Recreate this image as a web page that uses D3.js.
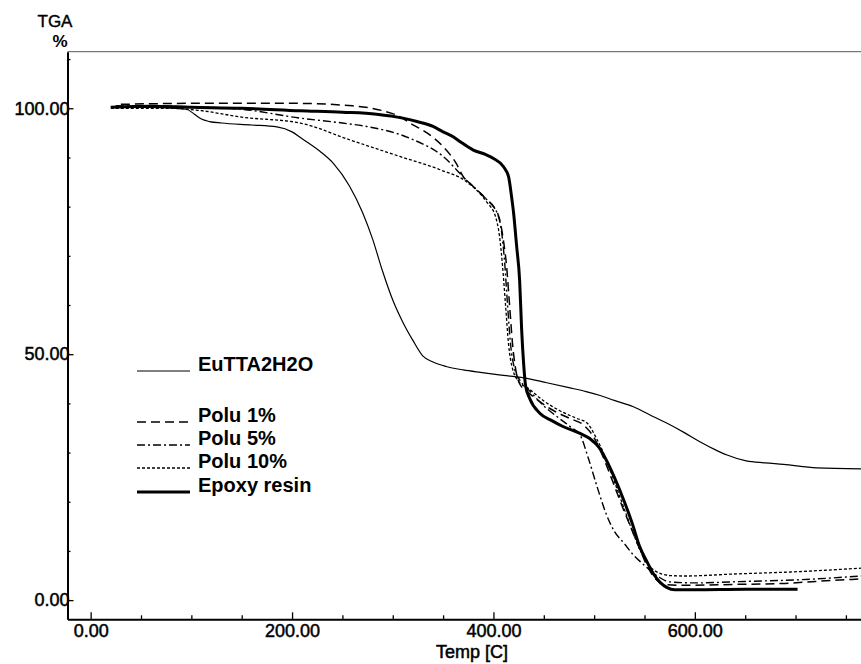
<!DOCTYPE html>
<html>
<head>
<meta charset="utf-8">
<script src="https://cdn.jsdelivr.net/npm/d3@7"></script>
<style>
  body { margin: 0; background: #fff; }
  text { font-family: "Liberation Sans", Arial, sans-serif; fill: #000; }
</style>
</head>
<body>
<div id="chart"></div>
<script>
// temperature [C], weight [%]
const euttaData = [[20,100.3],[60,100.2],[95,99.8],[103,98.8],[110,97.8],[118,97.3],[130,97],[160,96.6],[185,96.2],[200,95.2],[210,93.8],[228,91.2],[241,88.8],[257,84.2],[270,78.8],[280,73.4],[290,66.8],[300,61],[310,56.5],[320,52.8],[330,49.6],[340,48.4],[353,47.5],[370,46.8],[387,46.3],[410,45.7],[430,45.2],[453,44.2],[475,43.2],[492,42.4],[506,41.6],[520,40.6],[539,39.3],[555,37.7],[572,36],[590,34],[605,32.2],[620,30.6],[632,29.5],[651,28.3],[670,27.9],[688,27.6],[721,26.9],[765,26.7]];
const polu1Data = [[30,100.8],[100,101],[200,101],[260,100.5],[290,99.5],[305,98.5],[317,97],[334,95],[350,92.2],[363,88.8],[370,86.1],[378,84.5],[393,81.5],[400,80],[406,77.5],[410,73],[413,68],[416,60],[419,52],[422,47],[426,44],[433,42.5],[445,40.5],[460,38.5],[475,37],[490,35.5],[500,33],[506,30.5],[513,27],[519,23.8],[528,19],[536,15],[545,10.5],[553,6.8],[560,4.5],[570,3.2],[590,3],[640,3.2],[690,3.4],[720,3.8],[765,4.3]];
const polu5Data = [[25,100.5],[100,100.3],[150,99.8],[208,98],[250,97],[274,96.3],[317,93.9],[350,90.2],[373,85.4],[393,81.5],[403,79],[408,75],[411,69],[414,60],[417,52],[421,47],[427,44.5],[436,42.5],[450,39.5],[465,37],[478,35],[486,33.6],[494,29],[503,23],[512,17.5],[520,14],[530,11.5],[538,9.4],[547,7.6],[556,6],[565,4.6],[575,3.7],[600,3.5],[650,3.8],[700,4.1],[765,4.9]];
const polu10Data = [[20,100],[80,100],[110,99.5],[150,98.2],[208,97],[257,93.6],[307,90.2],[347,87.5],[373,85.1],[393,81],[402,78],[406,74],[409,68],[412,60],[415,52],[419,47],[425,44.5],[435,43],[450,40.5],[466,38.5],[482,37],[493,36],[502,33],[508,30.5],[515,27],[522,23],[530,18.5],[538,14],[546,10],[553,7.5],[560,6],[575,5],[590,4.9],[638,5.3],[704,5.8],[765,6.5]];
const epoxyData = [[20,100.2],[60,100.4],[100,100.2],[150,100],[208,99.5],[250,99.2],[284,98.8],[310,98],[324,97.3],[340,96.3],[350,95.2],[360,94.2],[367,93.2],[380,91.5],[392,90.6],[400,89.8],[410,88.1],[415,86.1],[418,82],[420,78.7],[423,72],[426,65],[428,55],[430,48],[432,43.5],[436,41],[446,38],[458,36.5],[469,35.3],[486,33.9],[496,32.8],[505,31],[512,28.5],[520,25],[530,20],[538,15.5],[545,11],[552,8],[559,5.3],[566,3.5],[572,2.6],[580,2.1],[600,2.1],[650,2.2],[702,2.2]];

const seriesNames = ["EuTTA2H2O", "Polu 1%", "Polu 5%", "Polu 10%", "Epoxy resin"];
const xTicks = [0, 200, 400, 600];
const yTicks = [0, 50, 100];

const width = 861;
const height = 664;

const series = [
    { name: seriesNames[0], data: euttaData, width: 1.2, dash: null },
    { name: seriesNames[1], data: polu1Data, width: 1.5, dash: "9,5" },
    { name: seriesNames[2], data: polu5Data, width: 1.4, dash: "8,3,2,3" },
    { name: seriesNames[3], data: polu10Data, width: 1.3, dash: "3,2" },
    { name: seriesNames[4], data: epoxyData, width: 3, dash: null }
];

const svg = d3.select("#chart")
    .append("svg")
    .attr("width", width)
    .attr("height", height);

const x = d3.scaleLinear().domain([-23, 765]).range([67.5, 861]);
const y = d3.scaleLinear().domain([-3.9, 111.5]).range([619.3, 51.7]);

// top frame line
svg.append("line")
    .attr("x1", x.range()[0]).attr("x2", x.range()[1])
    .attr("y1", y.range()[1]).attr("y2", y.range()[1])
    .attr("stroke", "#555")
    .attr("stroke-width", 1);

svg.append("g")
    .attr("transform", `translate(0,${y.range()[0]})`)
    .call(d3.axisBottom(x).tickValues(xTicks).tickFormat(d3.format(".2f"))
        .tickSize(-7).tickSizeOuter(0).tickPadding(5));
svg.append("g")
    .attr("transform", `translate(0,${y.range()[0]})`)
    .call(d3.axisBottom(x).tickValues(d3.range(50, 765, 50).filter(v => v % 200 !== 0))
        .tickSize(-4).tickSizeOuter(0).tickFormat(""))
    .select(".domain").remove();

svg.append("g")
    .attr("transform", `translate(${x.range()[0]},0)`)
    .call(d3.axisLeft(y).tickValues(yTicks).tickFormat(d3.format(".2f"))
        .tickSize(-6).tickSizeOuter(0).tickPadding(-2));
svg.append("g")
    .attr("transform", `translate(${x.range()[0]},0)`)
    .call(d3.axisLeft(y).tickValues(d3.range(10, 111, 10).filter(v => v % 50 !== 0))
        .tickSize(-3).tickSizeOuter(0).tickFormat(""))
    .select(".domain").remove();

svg.selectAll(".domain").attr("stroke", "#000").attr("stroke-width", 2);
svg.selectAll(".tick line").attr("stroke", "#000").attr("stroke-width", 1.3);
svg.selectAll(".tick text")
    .attr("font-size", 18)
    .attr("font-family", "Liberation Sans, Arial, sans-serif")
    .attr("fill", "#000")
    .attr("stroke", "#000")
    .attr("stroke-width", 0.5);

svg.append("text")
    .attr("x", 472).attr("y", 658)
    .attr("text-anchor", "middle")
    .attr("font-size", 18)
    .attr("stroke", "#000")
    .attr("stroke-width", 0.5)
    .text("Temp [C]");

svg.append("text")
    .attr("x", 55).attr("y", 27)
    .attr("text-anchor", "middle")
    .attr("font-size", 17)
    .attr("stroke", "#000")
    .attr("stroke-width", 0.4)
    .text("TGA");
svg.append("text")
    .attr("x", 60).attr("y", 47)
    .attr("text-anchor", "middle")
    .attr("font-size", 17)
    .attr("font-weight", "bold")
    .text("%");

svg.append("clipPath").attr("id", "plot")
    .append("rect")
    .attr("x", x.range()[0]).attr("y", y.range()[1])
    .attr("width", x.range()[1] - x.range()[0])
    .attr("height", y.range()[0] - y.range()[1]);

const line = d3.line()
    .x(d => x(d[0]))
    .y(d => y(d[1]))
    .curve(d3.curveMonotoneX);

svg.append("g")
    .attr("clip-path", "url(#plot)")
    .selectAll("path")
    .data(series)
    .enter()
    .append("path")
    .attr("d", d => line(d.data))
    .attr("fill", "none")
    .attr("stroke", "#000")
    .attr("stroke-width", d => d.width)
    .attr("stroke-dasharray", d => d.dash);

// legend
const legendRows = [371, 422, 445, 468, 492];
const legend = svg.append("g")
    .selectAll("g")
    .data(series)
    .enter()
    .append("g")
    .attr("transform", (d, i) => `translate(137,${legendRows[i]})`);

legend.append("line")
    .attr("x1", 0).attr("x2", 53)
    .attr("stroke", "#000")
    .attr("stroke-width", d => d.width)
    .attr("stroke-dasharray", d => d.dash);

legend.append("text")
    .attr("x", 61)
    .attr("font-size", 20)
    .attr("font-weight", "bold")
    .text(d => d.name);
</script>
</body>
</html>
